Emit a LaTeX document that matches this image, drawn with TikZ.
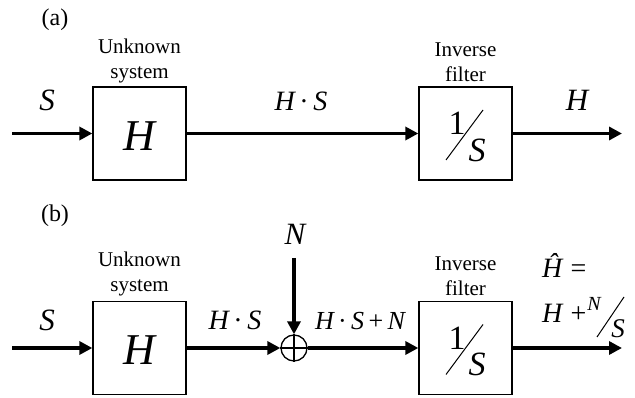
\documentclass[tikz,border=0pt]{standalone}
\usepackage{fontspec}
\setmainfont{Liberation Serif}
\usetikzlibrary{arrows.meta}
\begin{document}
\begin{tikzpicture}[x=1pt,y=-1pt,
  blk/.style={draw,line width=1.3pt,minimum size=93pt,inner sep=0pt},
  sig/.style={line width=3.8pt,-{Triangle[length=13pt,width=13pt]}},
  captxt/.style={font=\fontsize{21}{25}\selectfont,align=center,inner sep=0pt},
  parttxt/.style={font=\fontsize{24}{26}\selectfont,inner sep=0pt},
  lbl/.style={font=\fontsize{31}{33}\selectfont\itshape,inner sep=0pt},
  mlbl/.style={font=\fontsize{28}{30}\selectfont\itshape,inner sep=0pt},
  big/.style={font=\fontsize{44}{46}\selectfont\itshape,inner sep=0pt},
  fracnum/.style={font=\fontsize{34}{36}\selectfont,inner sep=0pt},
  fracden/.style={font=\fontsize{34}{36}\selectfont\itshape,inner sep=0pt},
  sl/.style={line width=1pt}]
\useasboundingbox (0,0) rectangle (635,398);
% ---------- (a)
\node[parttxt] (la) at (55,20) {(a)};
\node[blk] (h1) at (139.5,133.5) {};
\node[big] (h1t) at (139.5,136) {H};
\node[blk] (f1) at (465.5,133.5) {};
\node[captxt,anchor=south] (c1) at (139.5,83) {Unknown\\system};
\node[captxt,anchor=south] (c2) at (465.5,82) {Inverse\\filter};
\coordinate (in1) at (12,133.5);
\coordinate (out1) at (622,133.5);
\draw[sig] (in1) -- (h1.west);
\draw[sig] (h1.east) -- (f1.west);
\draw[sig] (f1.east) -- (out1);
\node[lbl] (s1) at (47,100) {S};
\node[mlbl] (hs1) at (301,101) {H\,\textup{·}\,S};
\node[lbl] (ho1) at (577,100) {H};
\node[fracnum] (one1) at (457,123.5) {1};
\node[fracden] (ss1) at (477,150) {S};
\coordinate (sa1) at (446,160);
\coordinate (sb1) at (483,110);
\draw[sl] (sa1) -- (sb1);
% ---------- (b)
\node[parttxt] (lb) at (55,216) {(b)};
\node[blk] (h2) at (139.5,348) {};
\node[big] (h2t) at (139.5,350.5) {H};
\node[blk] (f2) at (465.5,348) {};
\node[captxt,anchor=south] (c3) at (139.5,296) {Unknown\\system};
\node[captxt,anchor=south] (c4) at (465.5,296) {Inverse\\filter};
\node[draw,circle,line width=1.3pt,minimum size=26pt,inner sep=0pt] (sum) at (294,348) {};
\draw[line width=1.3pt] (sum.north) -- (sum.south) (sum.west) -- (sum.east);
\coordinate (in2) at (12,348);
\coordinate (out2) at (622,348);
\coordinate (ntop) at (294,258);
\draw[sig] (in2) -- (h2.west);
\draw[sig] (h2.east) -- (sum.west);
\draw[sig] (ntop) -- (sum.north);
\draw[sig] (sum.east) -- (f2.west);
\draw[sig] (f2.east) -- (out2);
\node[lbl] (s2) at (47,320) {S};
\node[mlbl] (hs2) at (235,320) {H\,\textup{·}\,S};
\node[lbl] (n2) at (295,234) {N};
\node[lbl,font=\fontsize{26}{28}\selectfont\itshape] (hsn) at (360,321) {H\,\textup{·}\,S\,\textup{+}\,N};
\node[fracnum] (one2) at (457,338) {1};
\node[fracden] (ss2) at (477,364.5) {S};
\coordinate (sa2) at (446,374.5);
\coordinate (sb2) at (483,324.5);
\draw[sl] (sa2) -- (sb2);
\node[mlbl,anchor=base west] (hh) at (542,278) {\^H \textup{=}};
\node[mlbl,anchor=base west] (hp) at (542,323) {H \textup{+}};
\node[lbl,font=\fontsize{20}{22}\selectfont\itshape] (nn) at (594,304) {N};
\node[lbl,font=\fontsize{27}{29}\selectfont\itshape] (sn) at (618,329) {S};
\coordinate (na) at (597,337);
\coordinate (nb) at (624,297);
\draw[sl] (na) -- (nb);
\end{tikzpicture}
\end{document}
